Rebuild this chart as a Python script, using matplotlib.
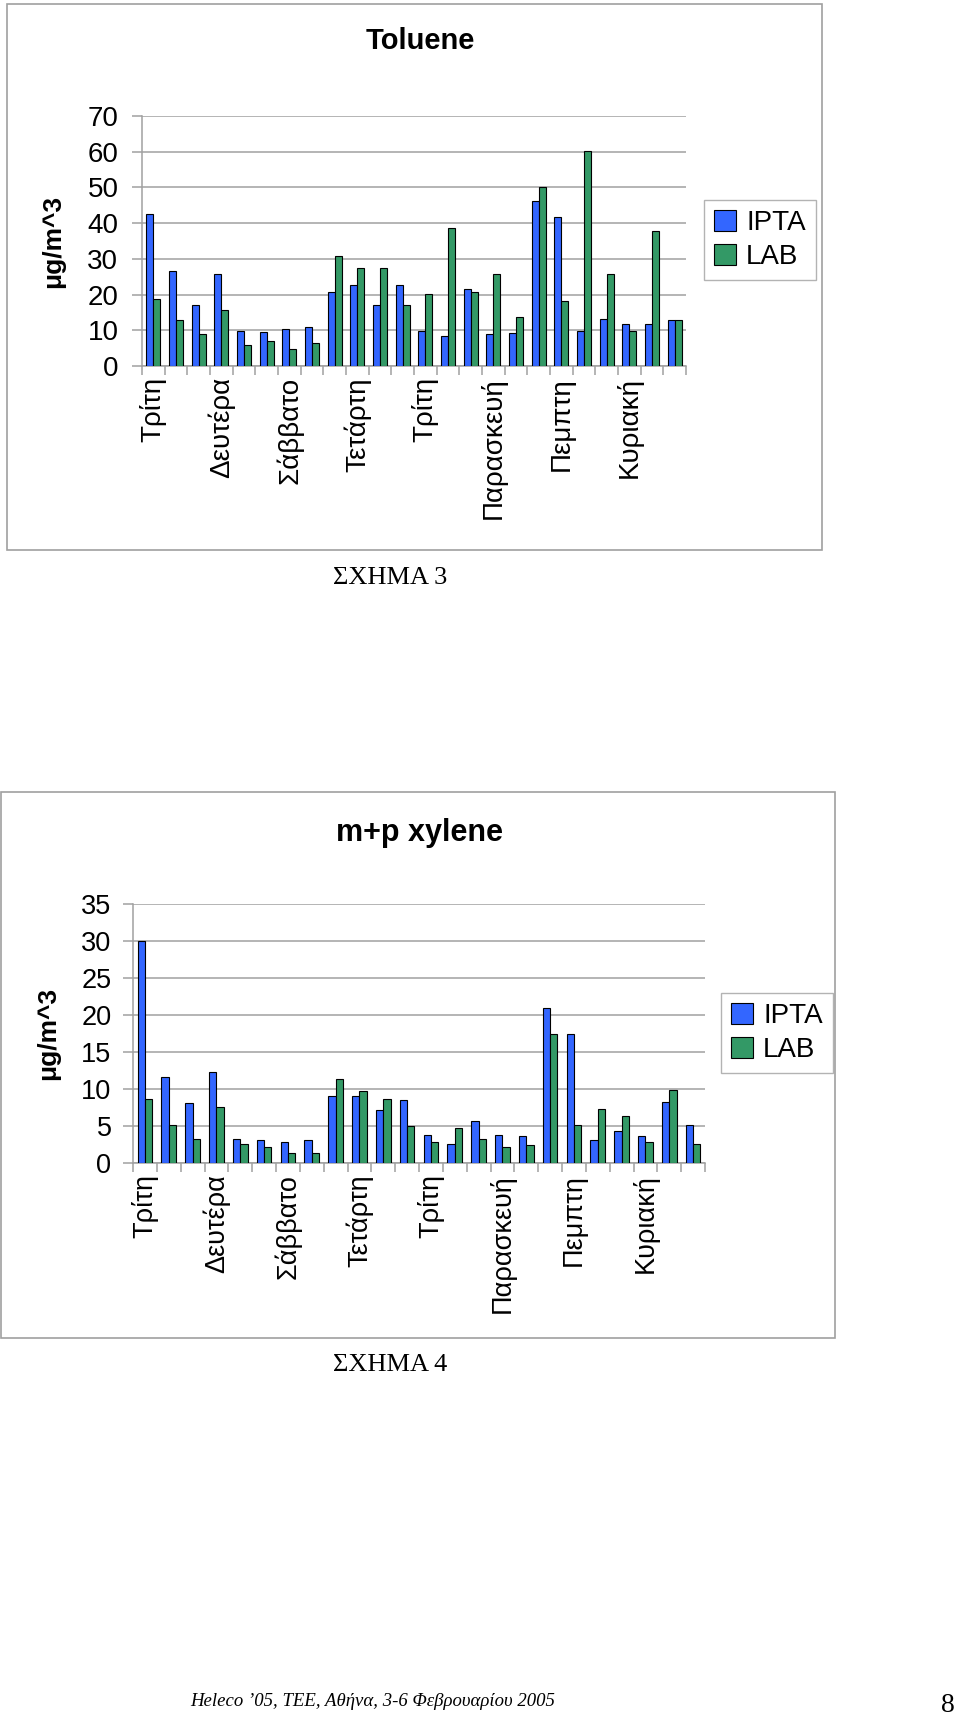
import matplotlib.pyplot as plt
import numpy as np
from matplotlib.patches import Rectangle

W, H = 960, 1718

# day labels shown under every third category
tick_days = ["Τρίτη", "Δευτέρα", "Σάββατο", "Τετάρτη", "Τρίτη", "Παρασκευή", "Πεμπτη", "Κυριακή"]
tick_pos = [0, 3, 6, 9, 12, 15, 18, 21]
n_cat = 24

toluene_ipta = [42.7, 26.5, 17.2, 25.9, 9.9, 9.4, 10.3, 10.8, 20.6, 22.6, 17.2, 22.6,
                9.9, 8.4, 21.6, 8.9, 9.3, 46.1, 41.7, 9.9, 13.3, 11.8, 11.8, 12.8]
toluene_lab = [18.7, 12.9, 8.9, 15.7, 5.9, 7.0, 4.9, 6.4, 30.9, 27.5, 27.5, 17.2,
               20.1, 38.7, 20.6, 25.9, 13.8, 50.0, 18.2, 60.2, 25.9, 9.9, 37.7, 12.8]

xylene_ipta = [30.0, 11.6, 8.1, 12.3, 3.3, 3.1, 2.8, 3.1, 9.0, 9.0, 7.1, 8.5,
               3.8, 2.6, 5.7, 3.8, 3.6, 20.9, 17.5, 3.1, 4.3, 3.6, 8.3, 5.2]
xylene_lab = [8.6, 5.2, 3.3, 7.6, 2.6, 2.2, 1.4, 1.4, 11.4, 9.7, 8.6, 5.0,
              2.8, 4.7, 3.3, 2.2, 2.4, 17.5, 5.2, 7.3, 6.4, 2.8, 9.9, 2.6]

BLUE = "#3366FF"
GREEN = "#339966"
GRAY = "#A0A0A0"
SANS = "Liberation Sans"
SERIF = "Liberation Serif"


def fx(px):
    return px / W


def fy(py):
    return 1 - py / H


def draw_chart(fig, box, plot, ipta, lab, ymax, ystep, title, title_y, title_fs, legend_c,
               caption, caption_y, ylabel_x, tick_fs, ypad):
    # outer chart frame
    x0, y0, x1, y1 = box
    fig.add_artist(Rectangle((fx(x0), fy(y1)), fx(x1 - x0), (y1 - y0) / H,
                             transform=fig.transFigure, fill=False,
                             edgecolor=GRAY, linewidth=1.2))
    l, t, r, b = plot
    ax = fig.add_axes([fx(l), fy(b), fx(r - l), (b - t) / H])
    x = np.arange(n_cat)
    w = 0.31
    bars_a = ax.bar(x - w / 2, ipta, w, color=BLUE, edgecolor="black", linewidth=0.8, label="IPTA", zorder=3)
    bars_b = ax.bar(x + w / 2, lab, w, color=GREEN, edgecolor="black", linewidth=0.8, label="LAB", zorder=3)
    ax.set_xlim(-0.5, n_cat - 0.5)
    ax.set_ylim(0, ymax)
    ax.set_yticks(np.arange(0, ymax + 1, ystep))
    ax.yaxis.grid(True, color=GRAY, linewidth=1.1, zorder=0)
    for s in ["top", "right"]:
        ax.spines[s].set_visible(False)
    for s in ["left", "bottom"]:
        ax.spines[s].set_color(GRAY)
        ax.spines[s].set_linewidth(1.1)
    ax.set_xticks(tick_pos, tick_days, rotation=90, fontfamily=SANS, fontsize=tick_fs)
    ax.set_xticks(np.arange(n_cat + 1) - 0.5, minor=True)
    ax.tick_params(axis="x", which="major", length=0, pad=8)
    ax.tick_params(axis="x", which="minor", length=6.5, color=GRAY, width=1.1)
    ax.tick_params(axis="y", length=7, color=GRAY, width=1.1, pad=ypad, labelsize=tick_fs)
    for lbl in ax.get_yticklabels():
        lbl.set_fontfamily(SANS)
    fig.text(fx(ylabel_x), fy((t + b) / 2), "μg/m^3", rotation=90, ha="center", va="center",
             fontfamily=SANS, fontweight="bold", fontsize=19)
    fig.text(fx(420), fy(title_y), title, ha="center", va="center",
             fontfamily=SANS, fontweight="bold", fontsize=title_fs)
    leg = fig.legend([bars_a, bars_b], ["IPTA", "LAB"], loc="center",
                     bbox_to_anchor=(fx(legend_c[0]), fy(legend_c[1])), bbox_transform=fig.transFigure,
                     frameon=True, fancybox=False, edgecolor=GRAY,
                     handlelength=0.8, handleheight=0.8, handletextpad=0.35,
                     borderpad=0.35, labelspacing=0.3, prop={"family": SANS, "size": 20})
    leg.get_frame().set_linewidth(1.0)
    fig.text(fx(390), fy(caption_y), caption, ha="center", va="center",
             fontfamily=SERIF, fontsize=19)
    return ax


fig = plt.figure(figsize=(W / 100, H / 100), dpi=100)

draw_chart(fig, (7, 4, 822, 550), (142, 116, 686, 366), toluene_ipta, toluene_lab, 70, 10,
           "Toluene", 41, 21, (760, 240), "ΣΧΗΜΑ 3", 578, 53, 20, 10)

draw_chart(fig, (1, 792, 835, 1338), (133, 904, 705, 1163), xylene_ipta, xylene_lab, 35, 5,
           "m+p xylene", 833, 22, (777, 1033), "ΣΧΗΜΑ 4", 1365, 48, 19.5, 8.5)

fig.text(fx(190), fy(1701), "Heleco \u201905, TEE, Αθήνα, 3-6 Φεβρουαρίου 2005",
         ha="left", va="center", fontfamily=SERIF, fontstyle="italic", fontsize=13.5)
fig.text(fx(941), fy(1705), "8", ha="left", va="center", fontfamily=SERIF, fontsize=20)

fig.savefig("out.png", dpi=100)
